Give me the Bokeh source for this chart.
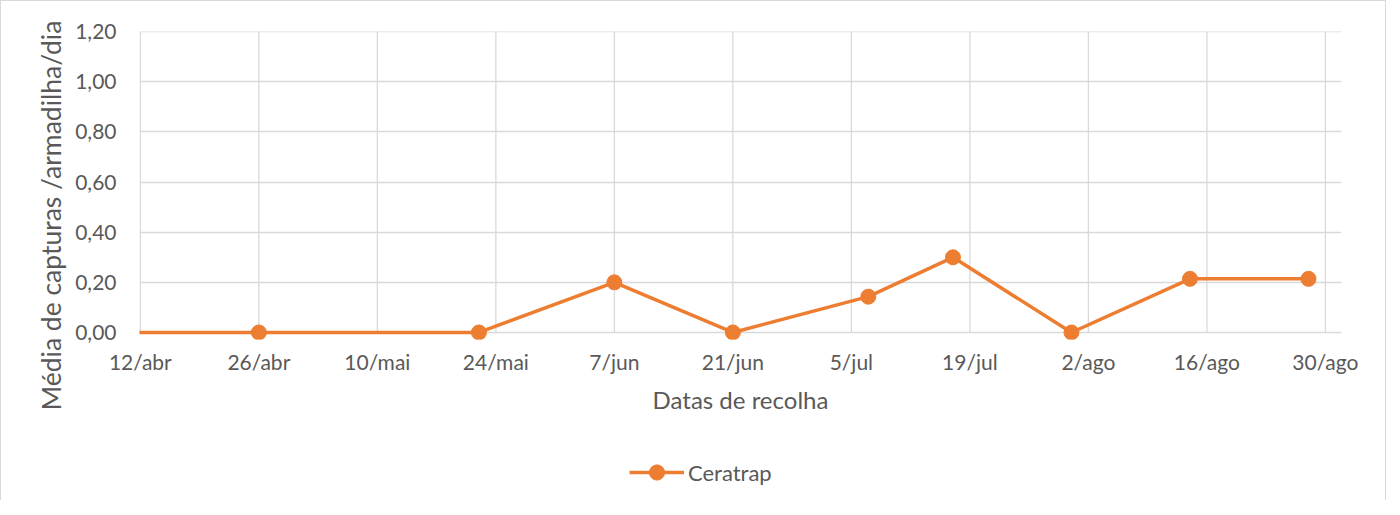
import pandas as pd
from bokeh.plotting import figure
from bokeh.layouts import column
from bokeh.models import FixedTicker, CustomJSTickFormatter, Legend, LegendItem, Range1d, Title
from bokeh.embed import file_html
from bokeh.resources import INLINE

# ---- data ----
dates = ["2021-04-10", "2021-04-26", "2021-05-22", "2021-06-07", "2021-06-21",
         "2021-07-07", "2021-07-17", "2021-07-31", "2021-08-14", "2021-08-28"]
ceratrap = [0.0, 0.0, 0.0, 0.20, 0.0, 0.143, 0.30, 0.0, 0.214, 0.214]
tick_dates = ["2021-04-12", "2021-04-26", "2021-05-10", "2021-05-24", "2021-06-07",
              "2021-06-21", "2021-07-05", "2021-07-19", "2021-08-02", "2021-08-16", "2021-08-30"]
tick_labels = ["12/abr", "26/abr", "10/mai", "24/mai", "7/jun", "21/jun",
               "5/jul", "19/jul", "2/ago", "16/ago", "30/ago"]
y_ticks = [0.0, 0.2, 0.4, 0.6, 0.8, 1.0, 1.2]
series_name = "Ceratrap"

start = pd.Timestamp(tick_dates[0])
xs = [(pd.Timestamp(d) - start).days for d in dates]
xt = [(pd.Timestamp(d) - start).days for d in tick_dates]

FONT = "Lato"
GRAY = "#595959"
GRID = "#d9d9d9"
ORANGE = "#ED7D31"

p = figure(frame_width=1202, frame_height=308, height=440, output_backend="svg",
           toolbar_location=None,
           x_range=Range1d(-0.1, xt[-1] + 1.9), y_range=Range1d(-0.028, 1.201),
           min_border_left=138, min_border_right=42, min_border_top=30,
           min_border_bottom=102)
p.outline_line_color = None

# vertical gridlines from the tick positions, spanning the value axis
p.segment(x0=xt, y0=[y_ticks[0]] * len(xt), x1=xt, y1=[y_ticks[-1]] * len(xt),
          line_color=GRID, line_width=1.3)
p.xgrid.visible = False

l = p.line(xs, ceratrap, line_color=ORANGE, line_width=3.5)
c = p.scatter(xs, ceratrap, size=15, fill_color=ORANGE, line_color=ORANGE)

p.xaxis.ticker = FixedTicker(ticks=xt)
p.xaxis.major_label_overrides = {t: lab for t, lab in zip(xt, tick_labels)}
p.yaxis.ticker = FixedTicker(ticks=y_ticks)
p.yaxis.formatter = CustomJSTickFormatter(code="return tick.toFixed(2).replace('.', ',');")

for ax in (p.xaxis[0], p.yaxis[0]):
    ax.major_tick_line_color = None
    ax.minor_tick_line_color = None
    ax.axis_line_color = None
    ax.major_label_text_font = FONT
    ax.major_label_text_font_size = "21px"
    ax.major_label_text_color = GRAY
    ax.axis_label_text_font = FONT
    ax.axis_label_text_color = GRAY
    ax.axis_label_text_font_style = "normal"

p.xaxis.axis_label_text_font_size = "24px"
p.xaxis.major_label_standoff = 3
p.yaxis.major_label_standoff = 17
p.xaxis.axis_label = "Datas de recolha"
p.xaxis.axis_label_standoff = 8

ytitle = Title(text="Média de capturas /armadilha/dia", align="left", offset=-71,
               text_font=FONT, text_font_size="26.5px", text_color=GRAY,
               text_font_style="normal", standoff=12)
p.add_layout(ytitle, "left")

p.ygrid.ticker = FixedTicker(ticks=y_ticks)
p.ygrid.grid_line_color = GRID
p.ygrid.grid_line_width = 1.3

# legend strip beneath the chart (its renderers hold the series' first point,
# kept outside the strip's visible range so only the legend key shows)
p2 = figure(width=1384, height=59, output_backend="svg", toolbar_location=None,
            x_axis_location=None, y_axis_location=None,
            x_range=Range1d(1000, 1001), y_range=Range1d(1000, 1001),
            min_border_left=0, min_border_right=0, min_border_top=0, min_border_bottom=0)
p2.outline_line_color = None
p2.grid.visible = False
l2 = p2.line(x=xs[:1], y=ceratrap[:1], line_color=ORANGE, line_width=3.5)
c2 = p2.scatter(x=xs[:1], y=ceratrap[:1], size=15, fill_color=ORANGE, line_color=ORANGE)
legend = Legend(items=[LegendItem(label=series_name, renderers=[l2, c2])],
                location=(490, 9), orientation="horizontal",
                label_text_font=FONT, label_text_font_size="22px",
                label_text_color=GRAY, glyph_width=55, glyph_height=38,
                label_standoff=4, border_line_color=None,
                background_fill_alpha=0, padding=4, margin=0)
p2.add_layout(legend, "center")

layout = column(p, p2, spacing=0,
                styles={"border": "1px solid #d9d9d9", "border-bottom": "none",
                        "box-sizing": "border-box"})

open("out.html", "w").write(file_html(layout, INLINE))
